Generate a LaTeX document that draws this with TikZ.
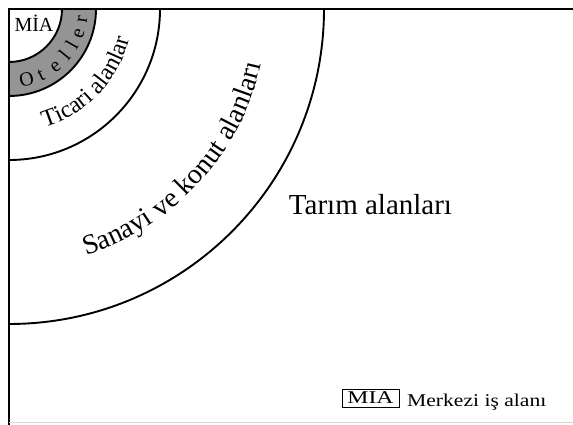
\documentclass[tikz,border=0pt]{standalone}
\usepackage{graphicx}
\usepackage{fontspec}
\setmainfont{Liberation Serif}
\usetikzlibrary{decorations.text}
\tikzset{
  frameline/.style={line width=2.6pt},
  ringline/.style={line width=1.9pt},
  hotel/.style={fill=black!42},
  oletter/.style={anchor=base, inner sep=0pt, font=\fontsize{20}{20}\selectfont},
  legendfont/.style={font=\fontsize{18}{18}\selectfont},
}
\newcommand{\legwide}[2]{\scalebox{#1}[1]{#2}}
\begin{document}
\begin{tikzpicture}[x=1pt,y=1pt]
\useasboundingbox (0,0) rectangle (573,425);
\coordinate (C) at (9,416);
\begin{scope}[shift={(C)}]
  % hotel ring
  \fill[hotel] (-90:87) arc[start angle=-90,end angle=0,radius=87] -- (0:53) arc[start angle=0,end angle=-90,radius=53] -- cycle;
  \draw[ringline] (-90:53) arc[start angle=-90,end angle=0,radius=53];
  \draw[ringline] (-90:87) arc[start angle=-90,end angle=0,radius=87];
  \draw[ringline] (-90:151) arc[start angle=-90,end angle=0,radius=151];
  \draw[ringline] (-90:315) arc[start angle=-90,end angle=0,radius=315];
  % Oteller letters
  \node[oletter, rotate=14]   (o1) at (-76:79) {O};
  \node[oletter, rotate=26]   (o2) at (-64:79) {t};
  \node[oletter, rotate=39]   (o3) at (-51:79) {e};
  \node[oletter, rotate=51]   (o4) at (-39.5:79) {l};
  \node[oletter, rotate=60.5] (o5) at (-29.5:79) {l};
  \node[oletter, rotate=70.6] (o6) at (-19.4:79) {e};
  \node[oletter, rotate=81]   (o7) at (-8.5:79) {r};
  % curved labels
  \path[decorate, decoration={text along path, text align=center,
        text={|\fontsize{24}{24}\selectfont|Ticari alanlar}}]
        (-87:124) arc[start angle=-87,end angle=0,radius=124];
  \path[decorate, decoration={text along path, text align=center,
        text={|\fontsize{28}{28}\selectfont|Sanayi ve konut alanları}}]
        (-85:258) arc[start angle=-85,end angle=0,radius=258];
\end{scope}
% frame
\draw[frameline] (9,0) -- (C) -- (573,416);
\draw[gray!30, line width=0.8pt] (9,2.5) -- (573,2.5);
% labels
\node[anchor=base, inner sep=0pt, font=\fontsize{20}{20}\selectfont] (mia) at (34,393.5) {MİA};
\node[anchor=base, inner sep=0pt, font=\fontsize{29}{29}\selectfont] (tarim) at (370.5,210) {Tarım alanları};
% legend
\node[draw, line width=0.9pt, minimum width=57pt, minimum height=18pt, inner sep=0pt, text depth=0pt,
      legendfont] (legbox) at (370.5,27) {\legwide{1.32}{MIA}};
\node[anchor=base west, inner sep=0pt, legendfont] (legtext) at (407,18.3) {\legwide{1.2}{Merkezi iş alanı}};
\end{tikzpicture}
\end{document}
